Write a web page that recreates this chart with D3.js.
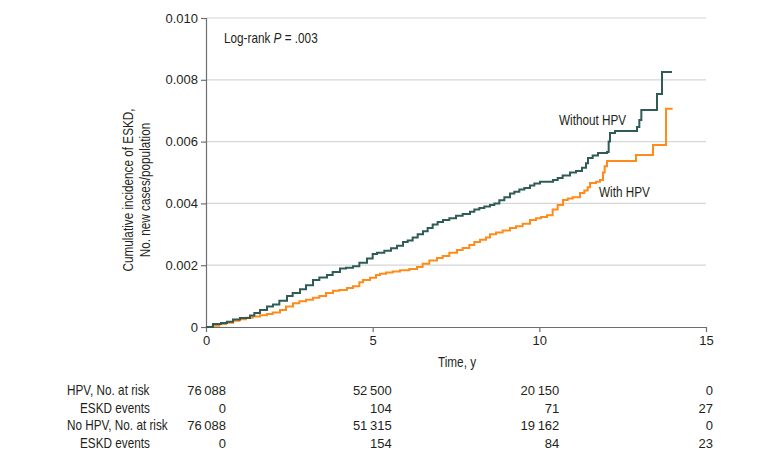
<!DOCTYPE html>
<html><head><meta charset="utf-8">
<script src="https://cdn.jsdelivr.net/npm/d3@7"></script>
<style>body{margin:0;background:#fff}svg{display:block}</style>
</head><body><svg id="c" width="780" height="461"></svg>
<script>
// ---- data ----
const withoutT = [0,0.21,0.45,0.63,0.81,1.02,1.32,1.45,1.62,1.83,2.01,2.2,2.43,2.6,2.82,3.0,3.21,3.4,3.63,3.8,4.02,4.2,4.41,4.6,4.83,5.0,5.13,5.35,5.55,5.73,5.91,6.05,6.2,6.35,6.51,6.65,6.8,6.95,7.11,7.3,7.5,7.7,7.92,8.05,8.2,8.35,8.52,8.65,8.8,8.95,9.12,9.25,9.4,9.55,9.72,9.85,10.02,10.41,10.55,10.7,10.92,11.1,11.28,11.4,11.46,11.6,11.76,12.03,12.08,12.12,12.27,12.93,13.0,13.06,13.53,13.68,13.98];
const withoutV = [0,0.0001,0.00013,0.00017,0.00024,0.00029,0.00037,0.00045,0.00055,0.00066,0.00073,0.00085,0.001,0.0011,0.00122,0.00135,0.00152,0.0016,0.00168,0.00178,0.00189,0.00192,0.00197,0.00208,0.00222,0.00236,0.0024,0.00247,0.00255,0.00263,0.00275,0.0028,0.0029,0.003,0.0031,0.0032,0.00332,0.0034,0.00346,0.00352,0.0036,0.00366,0.00373,0.0038,0.00385,0.0039,0.00395,0.004,0.0041,0.0042,0.00432,0.00438,0.00445,0.0045,0.00458,0.00464,0.0047,0.00476,0.00482,0.0049,0.005,0.00505,0.00515,0.0053,0.00547,0.00555,0.00563,0.00566,0.006,0.00628,0.00634,0.00647,0.0067,0.00702,0.00754,0.00825,0.00825];
const withT = [0,0.2,0.4,0.6,0.81,1.0,1.2,1.4,1.62,1.83,2.0,2.22,2.4,2.61,2.8,3.0,3.21,3.4,3.6,3.81,4.0,4.23,4.41,4.6,4.71,4.92,5.1,5.22,5.4,5.6,5.82,6.1,6.33,6.5,6.7,6.93,7.1,7.3,7.53,7.7,7.9,8.05,8.22,8.4,8.52,8.7,8.9,9.12,9.3,9.5,9.72,9.9,10.05,10.23,10.4,10.55,10.71,10.85,11.0,11.22,11.35,11.45,11.52,11.7,11.82,11.91,11.96,12.03,12.9,13.41,13.8,14.0];
const withV = [0,0.00004,0.0001,0.00014,0.0002,0.00025,0.0003,0.00034,0.00038,0.00042,0.00047,0.00055,0.00066,0.00077,0.00083,0.00088,0.00095,0.001,0.0011,0.00117,0.0012,0.00126,0.00132,0.00145,0.00152,0.00159,0.00168,0.00172,0.00176,0.0018,0.00184,0.00188,0.00194,0.00205,0.00215,0.00223,0.0023,0.0024,0.00249,0.00256,0.00265,0.00275,0.00282,0.0029,0.003,0.00306,0.00312,0.0032,0.00326,0.00334,0.00346,0.00352,0.00356,0.00362,0.0038,0.00395,0.00411,0.00416,0.0042,0.00434,0.00442,0.00452,0.00466,0.0047,0.00476,0.005,0.0052,0.00537,0.00557,0.00589,0.00706,0.00706];
const xTicks = [0,5,10,15];
const yTicks = [0,0.002,0.004,0.006,0.008,0.010];
const yTickLabels = ["0","0.002","0.004","0.006","0.008","0.010"];
const riskLabels = ["HPV, No. at risk","ESKD events","No HPV, No. at risk","ESKD events"];
const riskRows = [
  ["76\u2009088","52\u2009500","20\u2009150","0"],
  ["0","104","71","27"],
  ["76\u2009088","51\u2009315","19\u2009162","0"],
  ["0","154","84","23"]
];

// ---- layout ----
const FONT = "'Liberation Sans', Arial, sans-serif";
const WS = 14, NS = 13, SQ = 0.84;
const svg = d3.select("#c").attr("font-family",FONT);
const x = d3.scaleLinear().domain([0,15]).range([206,706]);
const y = d3.scaleLinear().domain([0,0.010]).range([327,18]);
const textCol = "#231f20";

// condensed word text helper
function word(px, py, str, anchor, extra) {
  const g = svg.append("g").attr("transform",`translate(${px},${py})${extra||""} scale(${SQ},1)`);
  return g.append("text").attr("x",0).attr("y",0).attr("text-anchor",anchor||"start")
    .attr("font-size",WS).attr("fill",textCol).text(str);
}

// gridlines
svg.append("g").selectAll("line").data(yTicks.filter(d=>d>0)).join("line")
  .attr("x1",x(0)).attr("x2",x(15)).attr("y1",d=>y(d)).attr("y2",d=>y(d))
  .attr("stroke","#d6d6d6").attr("stroke-width",1.2);

// y axis
const ya = svg.append("g").attr("transform",`translate(${x(0)},0)`)
  .call(d3.axisLeft(y).tickValues(yTicks).tickFormat((d,i)=>yTickLabels[i]).tickSize(5).tickPadding(3));
ya.select(".domain").attr("stroke","#6d6e71").attr("stroke-width",1.2);
ya.selectAll(".tick line").attr("stroke","#6d6e71").attr("stroke-width",1.2);
ya.selectAll("text").attr("font-size",NS).attr("fill",textCol).attr("font-family",FONT);

// x axis
const xa = svg.append("g").attr("transform",`translate(0,${y(0)})`)
  .call(d3.axisBottom(x).tickValues(xTicks).tickFormat(d3.format("d")).tickSize(5).tickPadding(4).tickSizeOuter(0));
xa.select(".domain").attr("stroke","#6d6e71").attr("stroke-width",1.2);
xa.selectAll(".tick line").attr("stroke","#6d6e71").attr("stroke-width",1.2);
xa.selectAll("text").attr("font-size",NS).attr("fill",textCol).attr("font-family",FONT);

// axis titles
word(457, 367, "Time, y", "middle");
word(133, 190, "Cumulative incidence of ESKD,", "middle", " rotate(-90)");
word(150, 190, "No. new cases/population", "middle", " rotate(-90)");

// lines
const line = d3.line().curve(d3.curveStepAfter).x(d=>x(d[0])).y(d=>y(d[1]));
const withoutData = withoutT.map((t,i)=>[t,withoutV[i]]);
const withData = withT.map((t,i)=>[t,withV[i]]);
svg.append("path").datum(withData).attr("d",line).attr("fill","none")
  .attr("stroke","#ff8c1a").attr("stroke-width",2);
svg.append("path").datum(withoutData).attr("d",line).attr("fill","none")
  .attr("stroke","#2f5c57").attr("stroke-width",2);

// annotations
const lr = word(224, 43, "");
lr.append("tspan").text("Log-rank ");
lr.append("tspan").attr("font-style","italic").text("P");
lr.append("tspan").text(" = .003");
word(559, 125, "Without HPV");
word(599, 197, "With HPV");

// risk table
const rowY = [395,412.5,430,448];
const labelX = [67,80,67,80];
riskLabels.forEach((l,i)=> word(labelX[i], rowY[i], l));
const colOffset = [20,19,20,7];
riskRows.forEach((row,i)=>{
  row.forEach((v,j)=>{
    svg.append("text").attr("x",x(xTicks[j])+colOffset[j]).attr("y",rowY[i])
      .attr("text-anchor","end").attr("font-size",NS).attr("fill",textCol).text(v);
  });
});
</script></body></html>
